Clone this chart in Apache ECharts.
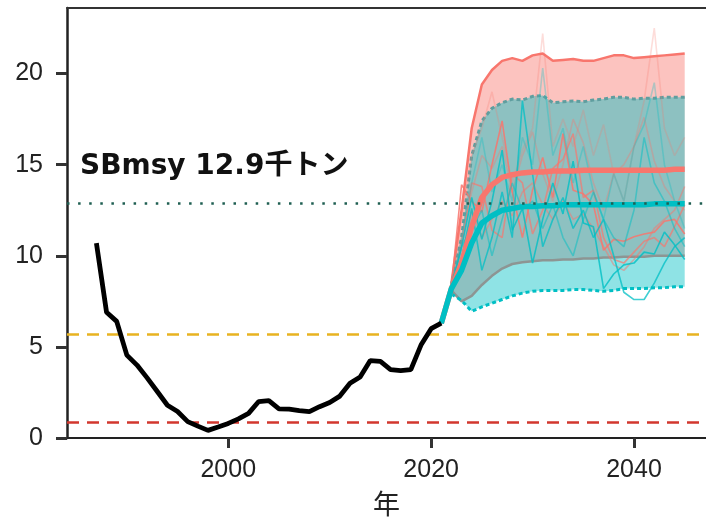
<!DOCTYPE html>
<html>
<head>
<meta charset="utf-8">
<script src="https://cdn.jsdelivr.net/npm/echarts@6/dist/echarts.min.js"></script>
<style>
  html, body { margin: 0; padding: 0; background: #fff; }
  #chart { width: 706px; height: 522px; }
</style>
</head>
<body>
<div id="chart"></div>
<script>
// 実績（親魚量, 千トン）
const histYears = [1987, 1988, 1989, 1990, 1991, 1992, 1993, 1994, 1995, 1996, 1997, 1998, 1999, 2000,
  2001, 2002, 2003, 2004, 2005, 2006, 2007, 2008, 2009, 2010, 2011, 2012, 2013, 2014, 2015, 2016,
  2017, 2018, 2019, 2020, 2021];
const histSB = [10.7, 6.9, 6.4, 4.55, 4.0, 3.3, 2.55, 1.8, 1.45, 0.9, 0.65, 0.42, 0.6, 0.8,
  1.05, 1.35, 2.0, 2.05, 1.6, 1.58, 1.5, 1.45, 1.72, 1.95, 2.3, 3.0, 3.35, 4.25, 4.2, 3.75,
  3.7, 3.75, 5.1, 6.0, 6.3];

// 将来予測（2021年から）
const trajYears = [2021, 2022, 2023, 2024, 2025, 2026, 2027, 2028, 2029, 2030, 2031, 2032, 2033,
  2034, 2035, 2036, 2037, 2038, 2039, 2040, 2041, 2042, 2043, 2044, 2045];
const redMedian = [6.3, 8.2, 9.6, 11.6, 13.2, 13.9, 14.3, 14.45, 14.55, 14.6, 14.6, 14.65, 14.65,
  14.65, 14.7, 14.7, 14.7, 14.7, 14.7, 14.7, 14.7, 14.7, 14.7, 14.75, 14.75];
const cyanMedian = [6.3, 8.2, 9.2, 10.7, 11.8, 12.2, 12.5, 12.6, 12.7, 12.7, 12.75, 12.75, 12.8,
  12.8, 12.8, 12.8, 12.8, 12.8, 12.8, 12.8, 12.8, 12.85, 12.85, 12.85, 12.85];

// 個別シミュレーション
const redRuns = [
  [6.3, 8.3, 13.9, 13.0, 12.4, 15.0, 17.4, 13.5, 11.0, 13.6, 15.4, 13.2, 16.7, 13.6, 13.4, 12.8, 10.3, 10.9, 10.8, 11.05, 11.2, 11.3, 11.9, 12.0, 11.2],
  [6.3, 8.2, 10.5, 14.0, 13.8, 11.4, 11.0, 14.5, 14.0, 11.2, 12.5, 14.8, 15.3, 16.7, 13.2, 13.6, 11.0, 9.8, 9.6, 10.2, 10.8, 11.0, 10.5, 11.6, 12.8],
  [6.3, 8.4, 12.0, 15.5, 17.0, 19.0, 16.5, 14.0, 15.8, 17.0, 22.2, 16.0, 17.5, 16.0, 18.0, 15.5, 17.2, 14.5, 13.0, 16.0, 18.5, 22.5, 17.0, 15.5, 16.5],
  [6.3, 8.2, 11.0, 13.5, 15.5, 14.8, 16.0, 13.5, 15.5, 16.8, 14.5, 13.0, 15.0, 17.5, 16.2, 14.0, 12.5, 14.5, 15.0, 16.0, 17.6, 15.2, 13.8, 13.0, 12.5],
  [6.3, 8.1, 9.5, 12.5, 11.0, 12.0, 13.0, 12.2, 13.5, 14.0, 12.8, 12.0, 13.0, 12.0, 12.3, 11.5, 10.5, 9.5, 9.2, 9.8, 10.5, 11.5, 12.0, 12.5, 13.8]
];
const redRunOpacity = [0.85, 0.7, 0.25, 0.35, 0.5];
const cyanRuns = [
  [6.3, 8.3, 10.5, 13.2, 10.9, 13.0, 15.8, 11.4, 12.6, 9.6, 12.0, 14.0, 12.3, 15.2, 11.8, 11.6, 8.2, 9.0, 9.5, 9.6, 10.2, 10.1, 11.3, 10.6, 9.8],
  [6.3, 8.2, 9.8, 12.6, 9.2, 11.0, 13.5, 11.0, 18.5, 14.5, 10.5, 12.0, 13.2, 11.5, 12.5, 11.0, 12.0, 10.0, 8.0, 7.6, 7.6, 8.5, 9.6, 10.5, 11.0],
  [6.3, 8.4, 11.0, 14.0, 16.5, 13.5, 15.0, 13.0, 16.5, 15.0, 20.3, 15.5, 17.0, 14.0, 16.0, 13.5, 12.0, 14.5, 13.0, 16.0, 17.2, 19.5, 15.0, 13.0, 11.5],
  [6.3, 8.2, 10.5, 11.5, 12.5, 10.0, 12.0, 14.0, 12.5, 13.0, 11.5, 12.8, 11.0, 10.0, 12.0, 13.5, 12.0, 11.0, 10.5, 12.5, 16.5, 14.0, 13.0, 11.5, 10.5]
];
const cyanRunOpacity = [0.8, 0.75, 0.3, 0.5];

// 信頼区間（2022年から）
const bandYears = [2022, 2023, 2024, 2025, 2026, 2027, 2028, 2029, 2030, 2031, 2032, 2033,
  2034, 2035, 2036, 2037, 2038, 2039, 2040, 2041, 2042, 2043, 2044, 2045];
const redUpper = [8.5, 12.5, 17.0, 19.4, 20.2, 20.7, 20.85, 20.7, 21.0, 21.1, 20.7, 20.75,
  20.8, 20.7, 20.7, 20.85, 21.0, 21.0, 20.85, 20.9, 20.95, 21.0, 21.05, 21.1];
const redLower = [8.1, 7.5, 7.8, 8.4, 8.9, 9.3, 9.55, 9.65, 9.7, 9.75, 9.75, 9.8,
  9.8, 9.85, 9.85, 9.9, 9.9, 9.95, 9.95, 9.95, 10.0, 10.0, 10.0, 10.0];
const cyanUpper = [8.4, 11.0, 15.5, 17.4, 18.1, 18.4, 18.6, 18.55, 18.75, 18.8, 18.4, 18.45,
  18.5, 18.45, 18.55, 18.6, 18.7, 18.7, 18.6, 18.65, 18.65, 18.7, 18.7, 18.7];
const cyanLower = [7.9, 7.55, 6.95, 7.2, 7.4, 7.6, 7.8, 7.95, 8.05, 8.1, 8.1, 8.1,
  8.15, 8.15, 8.1, 8.05, 8.1, 8.2, 8.2, 8.2, 8.25, 8.25, 8.3, 8.3];

// 管理基準値
const sbTarget = 12.9;
const sbLimit = 5.7;
const sbBan = 0.85;

// 軸目盛
const xTicks = [2000, 2020, 2040];
const yTicks = [0, 5, 10, 15, 20];

const RED = '#F8766D';
const CYAN = '#00BFC4';
const LABEL_FONT = '"Liberation Sans", Arial, sans-serif';

function pairs(xs, ys) {
  return xs.map((x, i) => [x, ys[i]]);
}

function lineSeries(xs, ys, color, width, extra) {
  return Object.assign({
    type: 'line',
    data: pairs(xs, ys),
    symbol: 'none',
    silent: true,
    lineStyle: { color: color, width: width },
    z: 3
  }, extra || {});
}

// 区間を1枚のポリゴンで描く
function bandSeries(lo, hi, fill) {
  return {
    type: 'custom',
    silent: true,
    z: 2,
    data: bandYears.map((y, i) => [y, lo[i], hi[i]]),
    encode: { x: 0, y: [1, 2] },
    renderItem: function (params, api) {
      if (params.dataIndex !== 0) return null;
      const top = bandYears.map((y, i) => api.coord([y, hi[i]]));
      const bottom = bandYears.map((y, i) => api.coord([y, lo[i]])).reverse();
      return {
        type: 'polygon',
        shape: { points: top.concat(bottom) },
        style: { fill: fill }
      };
    }
  };
}

const series = [
  bandSeries(redLower, redUpper, 'rgba(248,118,109,0.44)'),
  bandSeries(cyanLower, cyanUpper, 'rgba(0,191,196,0.44)'),
  lineSeries(bandYears, redUpper, RED, 2.5),
  lineSeries(bandYears, redLower, '#8d9593', 2.5),
  lineSeries(bandYears, cyanUpper, '#5f9e9f', 3, { lineStyle: { color: '#5f9e9f', width: 3, type: [4, 3] } }),
  lineSeries(bandYears, cyanLower, CYAN, 3, { lineStyle: { color: CYAN, width: 3, type: [4, 3] } })
];

redRuns.forEach((run, i) => {
  series.push(lineSeries(trajYears, run, RED, 1.6, { lineStyle: { color: RED, width: 1.6, opacity: redRunOpacity[i] } }));
});
cyanRuns.forEach((run, i) => {
  series.push(lineSeries(trajYears, run, CYAN, 1.6, { lineStyle: { color: CYAN, width: 1.6, opacity: cyanRunOpacity[i] } }));
});

series.push(lineSeries(trajYears, redMedian, RED, 5.5, { z: 4 }));
series.push(lineSeries(trajYears, cyanMedian, CYAN, 5.5, { z: 4 }));

// 実績線と基準線
series.push(lineSeries(histYears, histSB, '#000', 4.8, {
  z: 5,
  markLine: {
    silent: true,
    symbol: 'none',
    label: { show: false },
    data: [
      { yAxis: sbTarget, lineStyle: { color: '#1f5f52', width: 2.5, type: [2.5, 8.6] } },
      { yAxis: sbLimit, lineStyle: { color: '#E8B321', width: 2.5, type: [12, 8] } },
      { yAxis: sbBan, lineStyle: { color: '#D2372E', width: 2.5, type: [12, 8] } }
    ]
  }
}));

const chart = echarts.init(document.getElementById('chart'), null, { renderer: 'canvas' });

chart.setOption({
  animation: false,
  backgroundColor: '#fff',
  grid: { left: 67, right: 0, top: 8, bottom: 84 },
  xAxis: [
    {
      type: 'value',
      min: 1984.1,
      max: 2047.1,
      name: '年',
      nameLocation: 'middle',
      nameGap: 52,
      nameTextStyle: { fontSize: 27, color: '#222', fontFamily: '"Noto Sans CJK JP", sans-serif' },
      splitLine: { show: false },
      axisLine: { lineStyle: { color: '#222', width: 2 } },
      axisTick: { customValues: xTicks, length: 10, lineStyle: { color: '#333', width: 3 } },
      axisLabel: {
        customValues: xTicks, margin: 20, fontSize: 25, color: '#222', fontFamily: LABEL_FONT,
        formatter: v => String(v)
      }
    },
    {
      // 上枠
      type: 'value',
      position: 'top',
      min: 1984.1,
      max: 2047.1,
      axisLine: { show: true, lineStyle: { color: '#333', width: 2 } },
      axisTick: { show: false },
      axisLabel: { show: false },
      splitLine: { show: false }
    }
  ],
  yAxis: {
    type: 'value',
    min: 0,
    max: 23.6,
    splitLine: { show: false },
    axisLine: { show: true, lineStyle: { color: '#222', width: 2.5 } },
    axisTick: { customValues: yTicks, length: 11, lineStyle: { color: '#333', width: 3 } },
    axisLabel: { customValues: yTicks, margin: 24, fontSize: 25, color: '#222', fontFamily: LABEL_FONT }
  },
  graphic: [
    {
      type: 'text',
      left: 80,
      top: 153,
      style: {
        text: 'SBmsy 12.9千トン',
        font: 'bold 28px "DejaVu Sans", "Noto Sans CJK JP", sans-serif',
        fill: '#111'
      }
    }
  ],
  series: series
});
</script>
</body>
</html>
